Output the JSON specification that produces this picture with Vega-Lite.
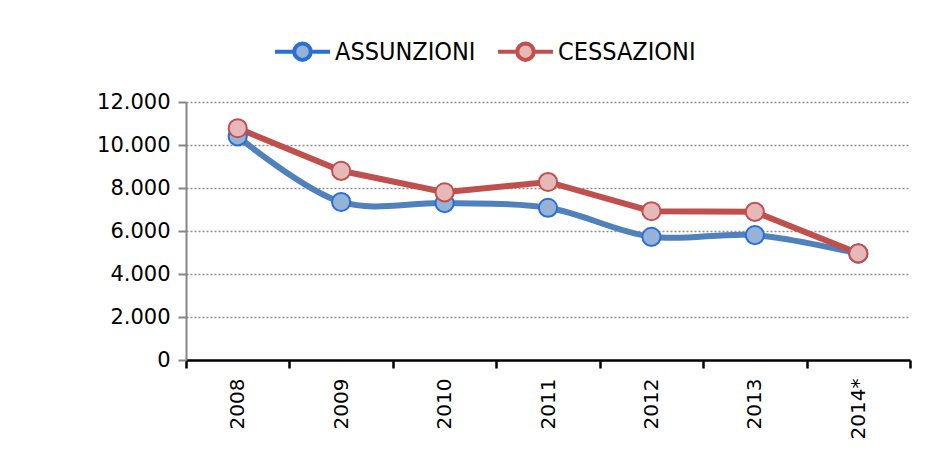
{
  "$schema": "https://vega.github.io/schema/vega-lite/v6.json",
  "width": 724,
  "height": 258,
  "autosize": {"type": "none"},
  "padding": {"left": 186, "top": 102, "right": 29, "bottom": 115},
  "background": "white",
  "config": {
    "view": {"stroke": null},
    "locale": {"number": {"decimal": ",", "thousands": ".", "grouping": [3], "currency": ["€", ""]}}
  },
  "data": {
    "values": [
      {"anno": "2008", "serie": "ASSUNZIONI", "valore": 10400},
      {"anno": "2009", "serie": "ASSUNZIONI", "valore": 7350},
      {"anno": "2010", "serie": "ASSUNZIONI", "valore": 7300},
      {"anno": "2011", "serie": "ASSUNZIONI", "valore": 7080},
      {"anno": "2012", "serie": "ASSUNZIONI", "valore": 5730},
      {"anno": "2013", "serie": "ASSUNZIONI", "valore": 5810},
      {"anno": "2014*", "serie": "ASSUNZIONI", "valore": 4950},
      {"anno": "2008", "serie": "CESSAZIONI", "valore": 10780},
      {"anno": "2009", "serie": "CESSAZIONI", "valore": 8800},
      {"anno": "2010", "serie": "CESSAZIONI", "valore": 7800},
      {"anno": "2011", "serie": "CESSAZIONI", "valore": 8280},
      {"anno": "2012", "serie": "CESSAZIONI", "valore": 6920},
      {"anno": "2013", "serie": "CESSAZIONI", "valore": 6890},
      {"anno": "2014*", "serie": "CESSAZIONI", "valore": 4960}
    ]
  },
  "encoding": {
    "x": {
      "field": "anno",
      "type": "ordinal",
      "sort": null,
      "bandPosition": 0.5,
      "scale": {"type": "band", "paddingInner": 0, "paddingOuter": 0},
      "axis": {
        "title": null,
        "labelAngle": -90,
        "labelFont": "DejaVu Sans",
        "labelFontSize": 20,
        "labelColor": "black",
        "labelPadding": 10,
        "domainColor": "black",
        "domainWidth": 2.5,
        "tickColor": "black",
        "tickWidth": 2.5,
        "tickSize": 8,
        "tickBand": "extent",
        "grid": false
      }
    },
    "y": {
      "field": "valore",
      "type": "quantitative",
      "scale": {"domain": [0, 12000], "nice": false},
      "axis": {
        "title": null,
        "values": [0, 2000, 4000, 6000, 8000, 10000, 12000],
        "format": ",.0f",
        "labelFont": "DejaVu Sans",
        "labelFontSize": 21,
        "labelColor": "black",
        "labelPadding": 8,
        "domainColor": "#868686",
        "domainWidth": 2,
        "tickColor": "#868686",
        "tickWidth": 2,
        "tickSize": 8,
        "grid": true,
        "gridColor": "#8c8c8c",
        "gridDash": [2, 2],
        "gridWidth": 1.5
      }
    }
  },
  "layer": [
    {
      "transform": [{"filter": "datum.serie === 'ASSUNZIONI'"}],
      "mark": {"type": "line", "interpolate": "catmull-rom", "color": "#4F81BD", "strokeWidth": 6}
    },
    {
      "transform": [{"filter": "datum.serie === 'CESSAZIONI'"}],
      "mark": {"type": "line", "color": "#C0504D", "strokeWidth": 6}
    },
    {
      "mark": {"type": "point", "filled": true, "size": 330, "strokeWidth": 2, "opacity": 1},
      "encoding": {
        "fill": {
          "field": "serie",
          "type": "nominal",
          "scale": {"domain": ["ASSUNZIONI", "CESSAZIONI"], "range": ["#95B3D7", "#E6B9B8"]},
          "legend": {
            "orient": "none",
            "legendX": 87,
            "legendY": -80,
            "direction": "horizontal",
            "title": null,
            "symbolType": "M-1,0L-0.3,0M0.3,0L1,0M0.3,0A0.3,0.3,0,1,1,-0.3,0A0.3,0.3,0,1,1,0.3,0Z",
            "symbolSize": 3025,
            "symbolStrokeWidth": 4,
            "labelFont": "Liberation Sans Narrow, DejaVu Sans Condensed, Liberation Sans",
            "labelFontSize": 25,
            "labelColor": "black",
            "labelOffset": 3,
            "columnPadding": 14
          }
        },
        "stroke": {
          "field": "serie",
          "type": "nominal",
          "scale": {"domain": ["ASSUNZIONI", "CESSAZIONI"], "range": ["#2A6FD6", "#C0504D"]},
          "legend": null
        }
      }
    }
  ]
}
